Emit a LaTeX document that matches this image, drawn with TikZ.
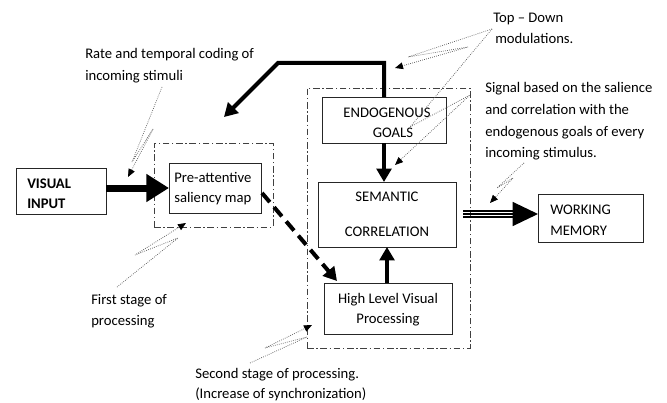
\documentclass[tikz,border=0pt]{standalone}
\usepackage{fontspec}
\setmainfont{Carlito}
\usetikzlibrary{arrows.meta,calc}
\begin{document}
\begin{tikzpicture}[x=0.75pt,y=-0.75pt,
  font=\fontsize{11}{13}\selectfont,
  box/.style={draw=black!85, line width=0.75pt, inner sep=0pt, outer sep=0pt},
  stagebox/.style={draw=black!75, line width=0.6pt, dash pattern=on 5pt off 2pt on 1pt off 2pt, inner sep=0pt, outer sep=0pt},
  txt/.style={anchor=base west, inner sep=0pt},
  ctxt/.style={anchor=base, inner sep=0pt},
  bigarrow/.style={line width=5.25pt, -{Triangle[length=17pt,width=20pt]}},
  thickarrow/.style={line width=3pt, -{Triangle[length=10pt,width=11pt]}},
  dasharrow/.style={line width=3pt, dash pattern=on 9pt off 5pt, -{Triangle[length=10pt,width=11pt]}},
  callout/.style={draw=black!65, line width=0.55pt, densely dotted, -{Triangle[length=6pt,width=5pt,color=black]}},
  tripleline/.style={line width=1pt},
]
\useasboundingbox (0,0) rectangle (667,403);

% stage frames
\node[stagebox, minimum width=89.25pt, minimum height=63pt] (stage1) at (213.5,185) {};
\node[stagebox, minimum width=122.25pt, minimum height=195pt] (stage2) at (388.5,218) {};

% boxes
\node[box, minimum width=67.5pt, minimum height=34.5pt] (vis) at (61,191) {};
\node[box, minimum width=69pt, minimum height=37.5pt] (pre) at (215,188) {};
\node[box, minimum width=93pt, minimum height=34.5pt] (endo) at (384,120) {};
\node[box, minimum width=103.5pt, minimum height=48.75pt] (sem) at (387,214.5) {};
\node[box, minimum width=96pt, minimum height=38.25pt] (hlv) at (388,308.5) {};
\node[box, minimum width=78.75pt, minimum height=36pt] (wm) at (590.5,218) {};

% box texts
\node[txt, font=\fontsize{11}{13}\selectfont\bfseries] (visA) at (27,188) {VISUAL};
\node[txt, font=\fontsize{11}{13}\selectfont\bfseries] (visB) at (27,208) {INPUT};
\node[txt] (preA) at (174,182) {Pre-attentive};
\node[txt] (preB) at (174,202) {saliency map};
\node[ctxt] (endoA) at (387,117.5) {ENDOGENOUS};
\node[ctxt] (endoB) at (393,137.5) {GOALS};
\node[ctxt] (semA) at (387,201.5) {SEMANTIC};
\node[ctxt] (semB) at (387,236.5) {CORRELATION};
\node[ctxt] (hlvA) at (388,303) {High Level Visual};
\node[ctxt] (hlvB) at (388,323) {Processing};
\node[txt] (wmA) at (550,214) {WORKING};
\node[txt] (wmB) at (550,235) {MEMORY};

% annotation texts
\node[txt] (topA) at (493,23) {Top -- Down};
\node[txt] (topB) at (495,44) {modulations.};
\node[txt] (rateA) at (85,59) {Rate and temporal coding of};
\node[txt] (rateB) at (85,80) {incoming stimuli};
\node[txt] (sigA) at (485,93) {Signal based on the salience};
\node[txt] (sigB) at (485,114.5) {and correlation with the};
\node[txt] (sigC) at (485,136) {endogenous goals of every};
\node[txt] (sigD) at (485,157.5) {incoming stimulus.};
\node[txt] (firstA) at (91,304) {First stage of};
\node[txt] (firstB) at (91,325) {processing};
\node[txt] (secA) at (195,378) {Second stage of processing.};
\node[txt] (secB) at (195,398) {(Increase of synchronization)};

% main arrows
\draw[bigarrow] (vis.east |- pre.west) -- (pre.west);
\coordinate (tdcorner) at (278,63);
\coordinate (tdtip) at (224,117);
\draw[thickarrow] (endo.north) |- (tdcorner) -- (tdtip);
\draw[thickarrow] (endo.south) -- (sem.north -| endo.south);
\draw[thickarrow] (hlv.north -| sem.south) -- (sem.south);
\draw[dasharrow] ($(pre.east)+(1,5)$) -- ($(hlv.north west)+(13,-2)$);

% triple arrow to working memory
\coordinate (trs) at (463,214);
\draw[tripleline, -{Triangle[length=19pt,width=18pt]}] (trs) -- (wm.west |- trs);
\draw[tripleline] ([yshift=2.2pt]trs) -- ++(52,0);
\draw[tripleline] ([yshift=-2.2pt]trs) -- ++(52,0);

% callouts
\coordinate (rateS) at (162,87);
\coordinate (rateE) at (128,177);
\draw[callout] (rateS) -- (132,162) -- (153,129) -- (rateE);
\coordinate (firstS) at (117,287);
\coordinate (firstE) at (186,223);
\draw[callout] (firstS) -- (178,238) -- (135,255) -- (firstE);
\coordinate (secS) at (250,363);
\coordinate (secE) at (312,325);
\draw[callout] (secS) -- (307,337) -- (265,348) -- (secE);
\coordinate (topS) at (492,29);
\coordinate (topE1) at (395,68);
\coordinate (topE2) at (395,165);
\draw[callout] (topS) -- (408,57) -- (468,47) -- (topE1);
\draw[callout] (topS) -- (410,127) -- (470,95) -- (topE2);
\coordinate (sigS) at (524,163);
\coordinate (sigE) at (490,203);
\draw[callout] (sigS) -- (497,188) -- (513,178) -- (sigE);
\end{tikzpicture}
\end{document}
